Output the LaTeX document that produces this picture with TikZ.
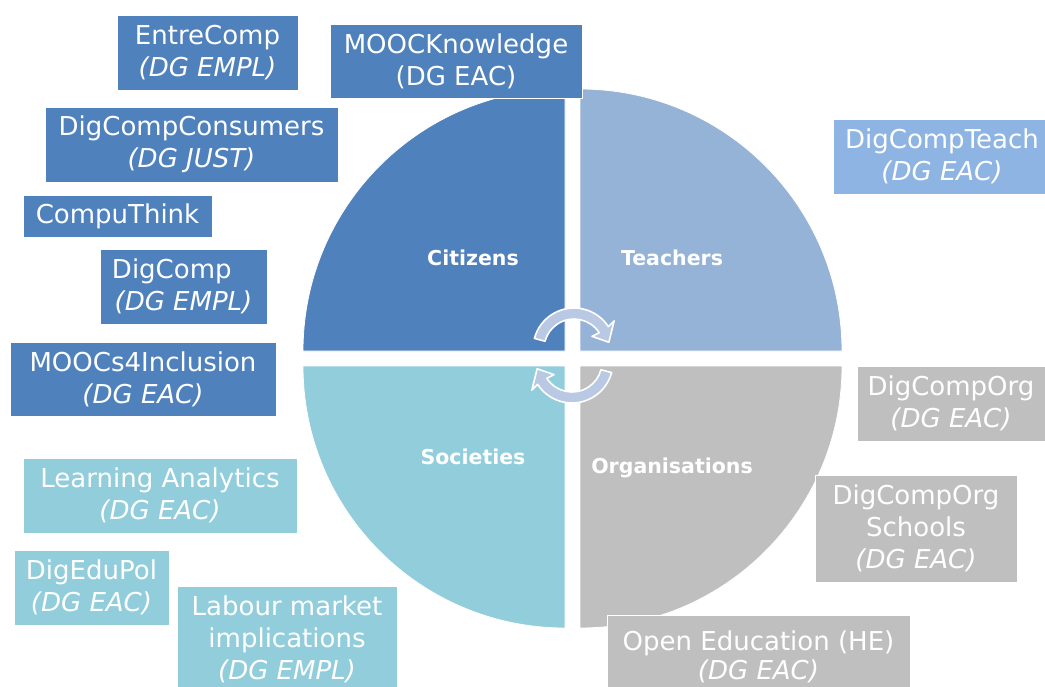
\documentclass[tikz,border=0pt]{standalone}
\usepackage{fontspec}
\setmainfont{DejaVu Sans}
\definecolor{cit}{HTML}{4F81BD}
\definecolor{tea}{HTML}{95B3D7}
\definecolor{teabox}{HTML}{8DB4E2}
\definecolor{soc}{HTML}{92CDDC}
\definecolor{org}{HTML}{BFBFBF}
\definecolor{arr}{HTML}{B9C8E3}
\begin{document}
\begin{tikzpicture}[x=1pt,y=-1pt,
  wedge/.style={draw=white,line width=0.8pt},
  cyc/.style={fill=arr,draw=white,line width=1.6pt,line join=round},
  qlabel/.style={text=white,font=\fontsize{20.5}{24}\selectfont\bfseries,inner sep=0pt},
  box/.style={draw=white,line width=0.8pt,inner sep=0pt,align=center,text=white,
    font=\fontsize{26}{32}\selectfont,anchor=center},
  bluebox/.style={box,fill=cit},
  teabx/.style={box,fill=teabox},
  socbox/.style={box,fill=soc},
  orgbox/.style={box,fill=org}]
\useasboundingbox (0,0) rectangle (1045,686);
\clip (0,0) rectangle (1045,686);
\fill[white] (0,0) rectangle (1045,686);
% quadrants
\filldraw[wedge,fill=cit] (565,351) -- ++(180:262) arc[start angle=180,end angle=270,radius=262] -- cycle;
\filldraw[wedge,fill=tea] (580,351) -- ++(270:262) arc[start angle=270,end angle=360,radius=262] -- cycle;
\filldraw[wedge,fill=org] (580,366) -- ++(0:262) arc[start angle=0,end angle=90,radius=262] -- cycle;
\filldraw[wedge,fill=soc] (565,366) -- ++(90:262) arc[start angle=90,end angle=180,radius=262] -- cycle;
% quadrant labels
\node[qlabel] (lcit) at (473,258) {Citizens};
\node[qlabel] (ltea) at (672,258) {Teachers};
\node[qlabel] (lsoc) at (473,457) {Societies};
\node[qlabel] (lorg) at (672,468) {Organisations};
% cycle arrows
\begin{scope}[shift={(574,349)}]
\path[cyc] (195:41) arc[start angle=195,end angle=327,radius=41] -- (325:49) -- (349:35.5) -- (325:22) -- (327:30) arc[start angle=327,end angle=195,radius=30] -- cycle;
\end{scope}
\begin{scope}[shift={(572,362)},rotate=180]
\path[cyc] (195:41) arc[start angle=195,end angle=327,radius=41] -- (325:49) -- (349:35.5) -- (325:22) -- (327:30) arc[start angle=327,end angle=195,radius=30] -- cycle;
\end{scope}
% boxes: citizens
\node[bluebox,minimum width=181,minimum height=75] (entre) at (207.5,52.5) {EntreComp\\\itshape (DG EMPL)};
\node[bluebox,minimum width=252,minimum height=74] (moock) at (456,61) {MOOCKnowledge\\(DG EAC)};
\node[bluebox,minimum width=293,minimum height=75] (cons) at (191.5,144.5) {DigCompConsumers\\\itshape (DG JUST)};
\node[bluebox,minimum width=189,minimum height=42] (compu) at (117.5,216) {CompuThink};
\node[bluebox,minimum width=167,minimum height=75] (digc) at (183.5,286.5) {DigComp\hspace*{0.9em}\\\itshape (DG EMPL)};
\node[bluebox,minimum width=266,minimum height=74] (mooci) at (143,379) {MOOCs4Inclusion\\\itshape (DG EAC)};
% teachers
\node[teabx,minimum width=218,minimum height=75] (teach) at (942,156.5) {DigCompTeach\\\itshape (DG EAC)};
% organisations
\node[orgbox,minimum width=188,minimum height=75] (dorg) at (951,403.5) {DigCompOrg\\\itshape (DG EAC)};
\node[orgbox,minimum width=202,minimum height=107] (dorgs) at (916,528.5) {DigCompOrg\\Schools\\\itshape (DG EAC)};
\node[orgbox,minimum width=303,minimum height=84,font=\fontsize{26}{29}\selectfont] (open) at (758.5,657) {Open Education (HE)\\\itshape (DG EAC)};
% societies
\node[socbox,minimum width=274,minimum height=75] (learn) at (160,495.5) {Learning Analytics\\\itshape (DG EAC)};
\node[socbox,minimum width=155,minimum height=75] (dedu) at (91.5,587.5) {DigEduPol\\\itshape (DG EAC)};
\node[socbox,minimum width=220,minimum height=107] (labour) at (287,639.5) {Labour market\\implications\\\itshape (DG EMPL)};
\end{tikzpicture}
\end{document}
